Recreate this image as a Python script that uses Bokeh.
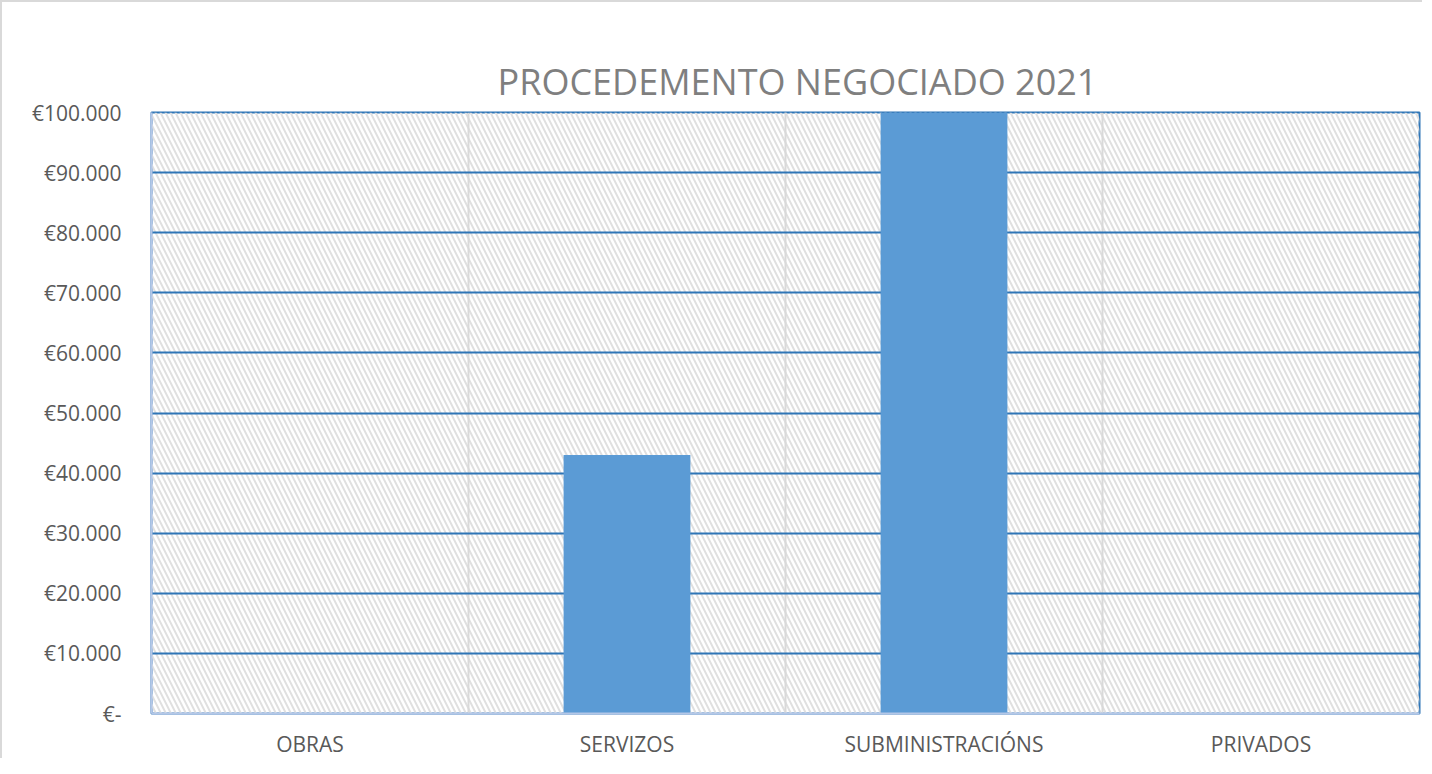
from bokeh.plotting import figure
from bokeh.models import FixedTicker, BoxAnnotation, Range1d
from bokeh.embed import file_html
from bokeh.resources import INLINE

categories = ["OBRAS", "SERVIZOS", "SUBMINISTRACIÓNS", "PRIVADOS"]
values = [0, 43000, 120000, 0]
y_ticks = [0, 10000, 20000, 30000, 40000, 50000, 60000, 70000, 80000, 90000, 100000]
y_labels = ["€-", "€10.000", "€20.000", "€30.000", "€40.000", "€50.000",
            "€60.000", "€70.000", "€80.000", "€90.000", "€100.000"]

xc = [i + 0.5 for i in range(len(categories))]

p = figure(width=1422, height=758, output_backend="svg", toolbar_location=None,
           x_range=Range1d(0, len(categories)), y_range=Range1d(0, 100000),
           min_border_left=149, min_border_right=5, min_border_top=110, min_border_bottom=34)

p.title.text = "PROCEDEMENTO NEGOCIADO 2021"
p.title.text_font = "Open Sans"
p.title.text_font_size = "36px"
p.title.text_font_style = "normal"
p.title.text_color = "#7f7f7f"
p.title.align = "left"
p.title.offset = 346
p.title.standoff = 14

hatch = BoxAnnotation(fill_alpha=0, line_alpha=0, hatch_pattern="left_diagonal_line",
                      hatch_color="#e0e0e0", hatch_scale=10, hatch_weight=2, level="image")
p.add_layout(hatch)

p.vbar(x=xc, top=values, width=0.4, color="#5b9bd5", line_color=None)

p.xaxis.ticker = FixedTicker(ticks=xc)
p.xaxis.major_label_overrides = {x: c for x, c in zip(xc, categories)}
p.yaxis.ticker = FixedTicker(ticks=y_ticks)
p.yaxis.major_label_overrides = {t: l for t, l in zip(y_ticks, y_labels)}

for ax in (p.xaxis, p.yaxis):
    ax.major_tick_line_color = None
    ax.minor_tick_line_color = None
    ax.axis_line_color = "#b4c7e7"
    ax.axis_line_width = 2
    ax.major_label_text_color = "#595959"
    ax.major_label_text_font = "Open Sans"
p.yaxis.major_label_text_font_size = "21px"
p.xaxis.major_label_text_font_size = "21px"
p.yaxis.major_label_standoff = 24
p.xaxis.major_label_standoff = 10

p.xgrid.ticker = FixedTicker(ticks=list(range(len(categories) + 1)))
p.xgrid.grid_line_color = "#d9d9d9"
p.xgrid.grid_line_width = 2
p.ygrid.ticker = FixedTicker(ticks=y_ticks)
p.ygrid.grid_line_color = "#2e75b6"
p.ygrid.grid_line_width = 2

p.outline_line_color = "#2e75b6"
p.outline_line_width = 2
p.styles = {"border-top": "2px solid #d9d9d9", "border-left": "2px solid #d9d9d9"}

open("out.html", "w").write(file_html(p, INLINE))
